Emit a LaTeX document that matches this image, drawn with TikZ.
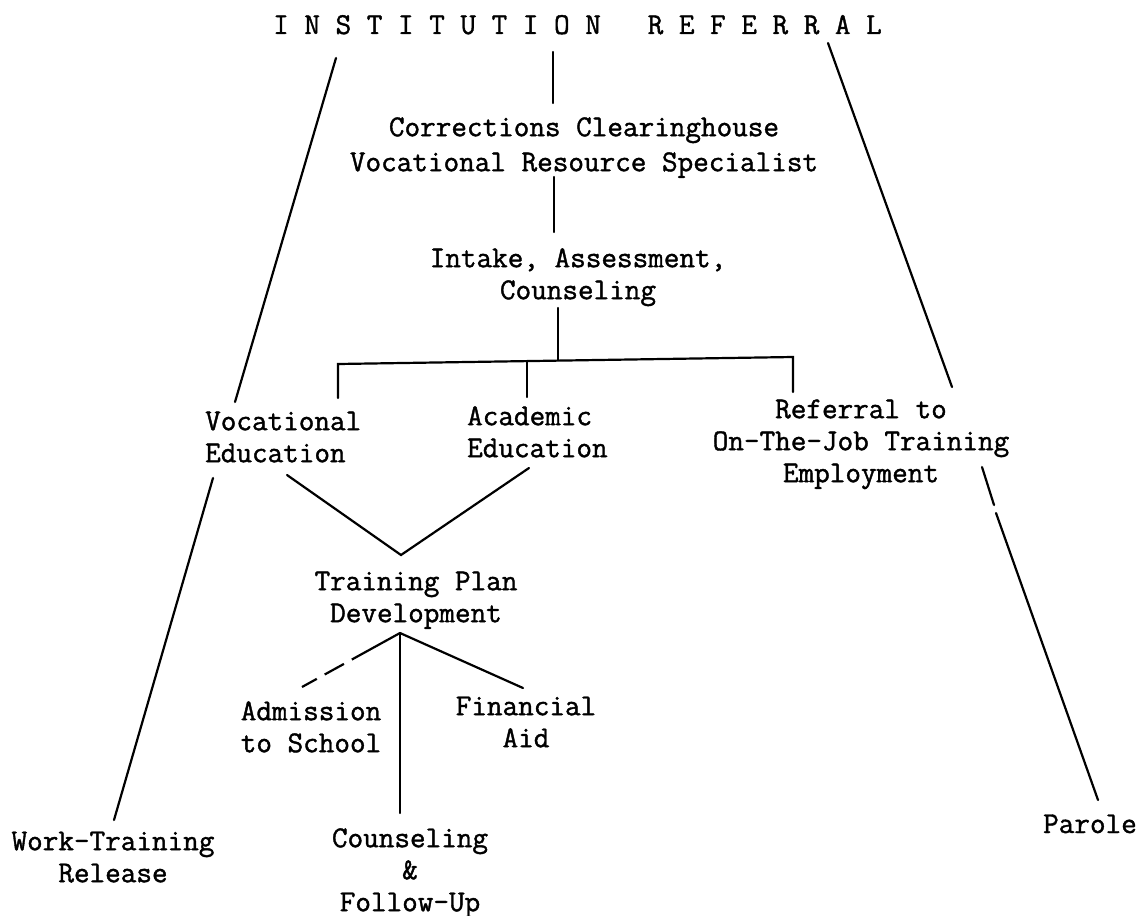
\documentclass[tikz,border=0pt]{standalone}
\usepackage{fontspec}
\newfontfamily\twfont{Latin Modern Mono}[FakeBold=1.3]
\newcommand\lnstrut{\rule{0pt}{24pt}}
\tikzset{
  lbl/.style={inner sep=0pt, align=center, anchor=north,
    font=\twfont\fontsize{30.3}{32}\selectfont},
  lbll/.style={lbl, align=left, anchor=north west},
  wire/.style={line width=2.2pt, line cap=round},
  dwire/.style={wire, line cap=butt,
    dash pattern=on 55pt off 9pt on 22pt off 9pt on 17pt off 20pt},
}
\begin{document}
\begin{tikzpicture}[x=1pt, y=-1pt]
  \useasboundingbox[fill=white] (0,0) rectangle (1147,915);

  % headings and boxes (top of each text block = first baseline - 24)
  \node[lbl, anchor=base west] (title) at (273,34)
    {I\ N\ S\ T\ I\ T\ U\ T\ I\ O\ N\ \ \ R\ E\ F\ E\ R\ R\ A\ L};
  \node[lbl, font=\twfont\fontsize{30.3}{35}\selectfont] (corr) at (584,112)
    {\lnstrut Corrections Clearinghouse\\Vocational Resource Specialist};
  \node[lbl] (intake) at (578,243) {\lnstrut Intake, Assessment,\\Counseling};
  \node[lbll] (voc) at (205,406) {\lnstrut Vocational\\Education};
  \node[lbll] (acad) at (467,401) {\lnstrut Academic\\Education};
  \node[lbl] (ojt) at (861,394) {\lnstrut Referral to\\On-The-Job Training\\Employment};
  \node[lbl] (tpd) at (416,566) {\lnstrut Training Plan\\Development};
  \node[lbl] (adm) at (311,696) {\lnstrut Admission\\to School};
  \node[lbl] (fin) at (526,691) {\lnstrut Financial\\Aid};
  \node[lbl] (cfu) at (410,823) {\lnstrut Counseling\\\&\\Follow-Up};
  \node[lbl] (wtr) at (113,826) {\lnstrut Work-Training\\Release};
  \node[lbl, anchor=base] (parole) at (1090,833) {Parole};

  % connector end points
  \coordinate (t1) at (553,52);   \coordinate (t2) at (553,103);
  \coordinate (c1) at (554,177);  \coordinate (c2) at (554,232);
  \coordinate (i1) at (558,308);  \coordinate (i2) at (558,360);
  \coordinate (bl) at (338,364);  \coordinate (br) at (793,357);
  \coordinate (bm) at (527,362);
  \coordinate (vl) at (338,398);  \coordinate (am) at (527,397);
  \coordinate (or) at (793,392);
  \coordinate (v1) at (287,475);  \coordinate (a1) at (529,468);
  \coordinate (tp) at (401,555);
  \coordinate (d0) at (400,633);
  \coordinate (d1) at (302,687);  \coordinate (d2) at (523,688);
  \coordinate (d3) at (400,813);
  \coordinate (l0) at (336,58);   \coordinate (l1) at (235,402);
  \coordinate (l2) at (213,478);  \coordinate (l3) at (114,820);
  \coordinate (r0) at (828,43);   \coordinate (r1) at (952,387);
  \coordinate (r2) at (982,467);  \coordinate (r3) at (994,505);
  \coordinate (r4) at (996,513);  \coordinate (r5) at (1098,800);

  % main chain
  \draw[wire] (t1) -- (t2);
  \draw[wire] (c1) -- (c2);
  \draw[wire] (i1) -- (i2);
  \draw[wire] (vl) -- (bl) -- (br) -- (or);
  \draw[wire] (bm) -- (am);

  % programmes merge into the training plan
  \draw[wire] (v1) -- (tp) -- (a1);
  \draw[dwire] (d0) -- (d1);
  \draw[wire] (d0) -- (d2);
  \draw[wire] (d0) -- (d3);

  % side branches
  \draw[wire] (l0) -- (l1);
  \draw[wire] (l2) -- (l3);
  \draw[wire] (r0) -- (r1);
  \draw[wire] (r2) -- (r3);
  \draw[wire] (r4) -- (r5);
\end{tikzpicture}
\end{document}
